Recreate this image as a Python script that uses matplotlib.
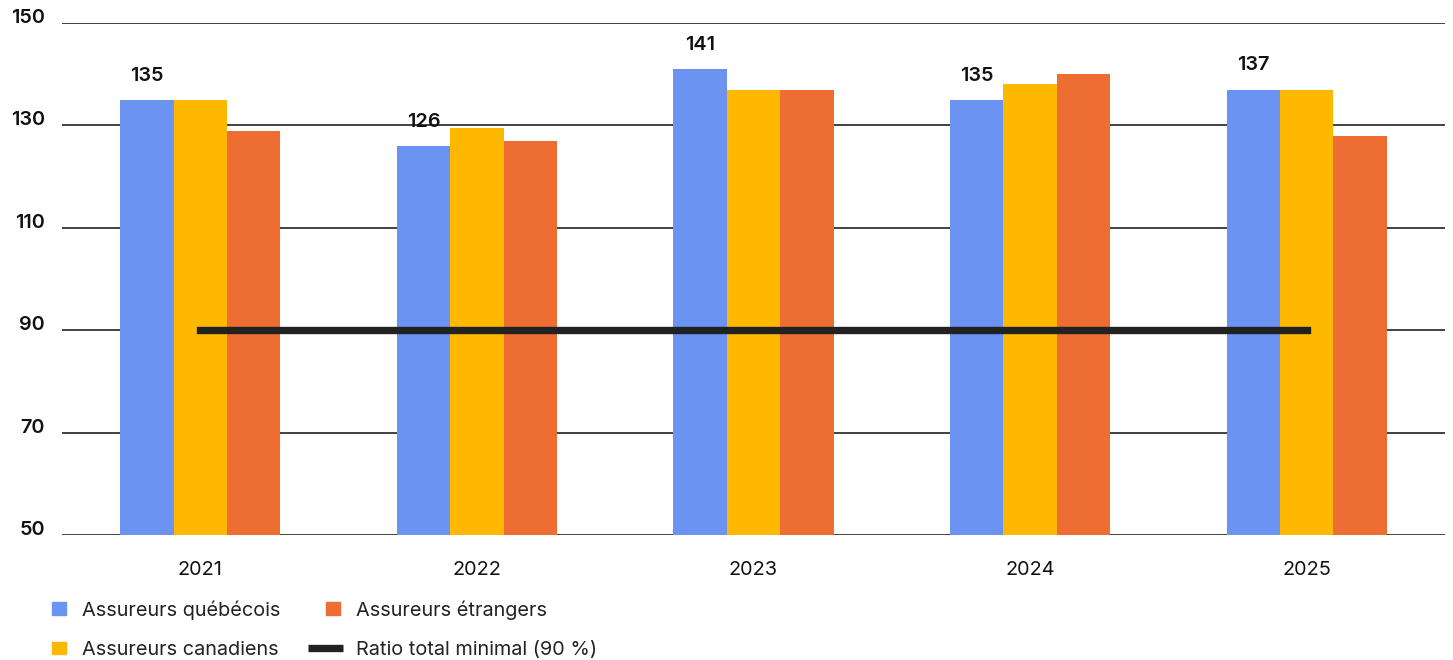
import matplotlib
matplotlib.use("Agg")
import matplotlib.pyplot as plt
from matplotlib.lines import Line2D
from matplotlib.patches import Patch
from matplotlib.legend_handler import HandlerLine2D
import numpy as np

plt.rcParams['font.family'] = ['Inter', 'DejaVu Sans']

years = ["2021", "2022", "2023", "2024", "2025"]
quebecois = [135, 126, 141, 135, 137]
canadiens = [135, 129.5, 137, 138, 137]
etrangers = [129, 127, 137, 140, 128]
ratio_minimal = 90
y_ticks = [50, 70, 90, 110, 130, 150]

c_qc = "#6B93F1"
c_ca = "#FFB800"
c_et = "#EE6D33"
c_line = "#222222"
fs = 14.3


class WideLineHandler(HandlerLine2D):
    """Legend line that reaches further left than the square patches."""

    def get_xdata(self, legend, xdescent, ydescent, width, height, fontsize):
        xd = np.array([-xdescent - 13.0, -xdescent + width + 2.0])
        return xd, xd


fig = plt.figure(figsize=(14.53, 6.60), dpi=100)
ax = fig.add_axes([62 / 1453, 125 / 660, 1383 / 1453, 512 / 660])

x = np.arange(len(years))
w = 0.193
ax.bar(x - w, quebecois, w, color=c_qc, zorder=3)
ax.bar(x, canadiens, w, color=c_ca, zorder=3)
ax.bar(x + w, etrangers, w, color=c_et, zorder=3)

for xi, v in zip(x, quebecois):
    ax.annotate(f"{v:g}", (xi - w, v), xytext=(0, 11), textcoords="offset points",
                ha="center", va="bottom", fontsize=fs, fontweight=600, color="#111111")

ax.plot([x[0], x[-1]], [ratio_minimal, ratio_minimal], color=c_line, lw=5.3,
        solid_capstyle="projecting", zorder=4)

ax.set_ylim(50, 150)
ax.set_xlim(-0.5, len(years) - 0.5)
ax.set_yticks(y_ticks)
ax.set_yticklabels([str(t) for t in y_ticks], fontsize=fs, fontweight=600, color="#111111")
ax.set_xticks(x)
ax.set_xticklabels(years, fontsize=fs, color="#111111")
ax.tick_params(axis="y", length=0, pad=12.5)
ax.tick_params(axis="x", length=0, pad=19)
for lbl in ax.get_yticklabels():
    lbl.set_verticalalignment("baseline")
for s in ax.spines.values():
    s.set_visible(False)
ax.yaxis.grid(True, color="#333333", lw=1.3, zorder=1)
ax.set_axisbelow(True)

ratio_handle = Line2D([0], [0], color=c_line, lw=5.3, solid_capstyle="butt",
                      label="Ratio total minimal (90 %)")
handles = [
    Patch(color=c_qc, label="Assureurs québécois"),
    Patch(color=c_ca, label="Assureurs canadiens"),
    Patch(color=c_et, label="Assureurs étrangers"),
    ratio_handle,
]
fig.legend(handles=handles, ncol=2, loc="upper left", bbox_to_anchor=(52 / 1453, 1 - 600 / 660),
           frameon=False, fontsize=fs, borderpad=0, borderaxespad=0,
           handlelength=0.7, handleheight=0.6,
           handletextpad=0.8, columnspacing=2.3, labelspacing=1.08, labelcolor="#222222",
           handler_map={ratio_handle: WideLineHandler()})

fig.savefig("out.png", dpi=100)
